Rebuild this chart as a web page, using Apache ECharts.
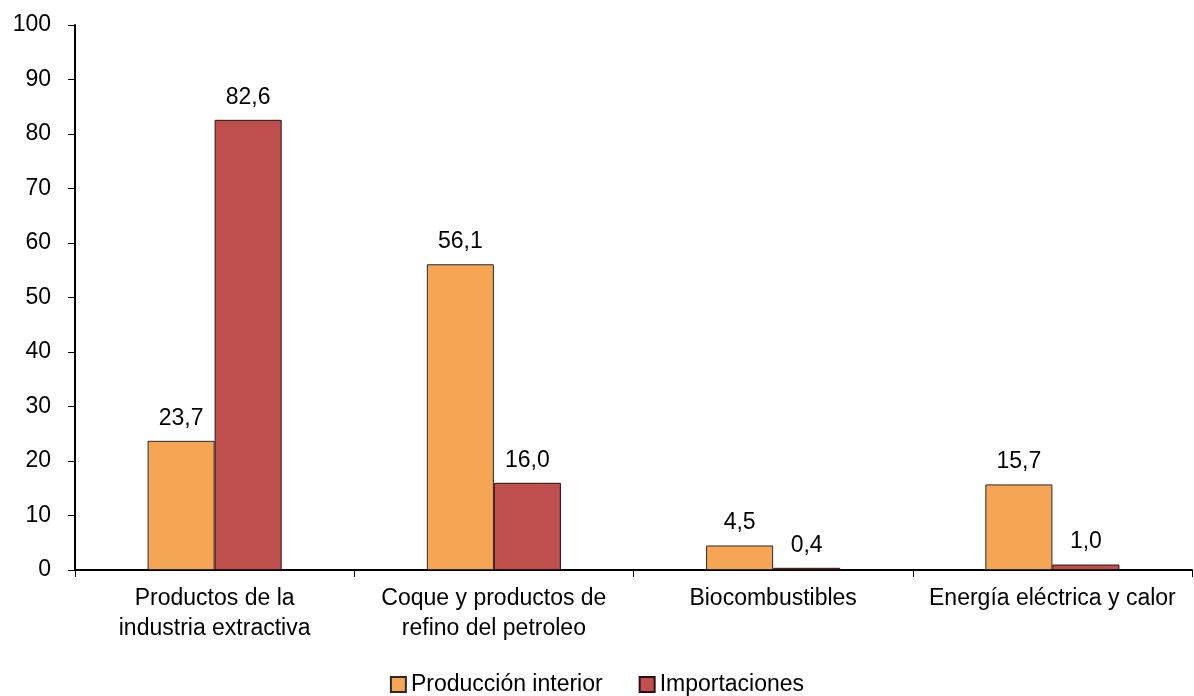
<!DOCTYPE html>
<html><head><meta charset="utf-8">
<script src="https://cdn.jsdelivr.net/npm/echarts@6/dist/echarts.min.js"></script>
<style>html,body{margin:0;padding:0;background:#fff}#c{width:1194px;height:696px}</style>
</head><body><div id="c"></div>
<script>
var categories = ['Productos de la\nindustria extractiva', 'Coque y productos de\nrefino del petroleo', 'Biocombustibles', 'Energía eléctrica y calor'];
var produccion = [23.7, 56.1, 4.5, 15.7];
var importaciones = [82.6, 16.0, 0.4, 1.0];
var seriesNames = ['Producción interior', 'Importaciones'];

var font = 'Liberation Sans, Arial, sans-serif';
var fs = 23;
var fmt = function(p){ return p.value.toFixed(1).replace('.', ','); };
var chart = echarts.init(document.getElementById('c'));
chart.setOption({
  animation: false,
  grid: {left: 75, right: 2, top: 25, bottom: 126},
  legend: {
    top: 668, left: 'center', itemWidth: 15, itemHeight: 15, itemGap: 36,
    icon: 'rect',
    textStyle: {fontFamily: font, fontSize: fs, color: '#000'},
    data: seriesNames
  },
  xAxis: {
    type: 'category', data: categories,
    axisLine: {lineStyle: {color: '#000', width: 2}},
    axisTick: {show: true, length: 7, lineStyle: {color: '#000'}},
    axisLabel: {interval: 0, fontFamily: font, fontSize: fs, color: '#000', lineHeight: 30, margin: 14}
  },
  yAxis: {
    type: 'value', min: 0, max: 100, interval: 10,
    splitLine: {show: false},
    axisLine: {show: true, lineStyle: {color: '#000', width: 2}},
    axisTick: {show: true, length: 7, lineStyle: {color: '#000'}},
    axisLabel: {fontFamily: font, fontSize: fs, color: '#000', margin: 24}
  },
  series: [
    {name: seriesNames[0], type: 'bar', data: produccion, barWidth: '24%', barGap: '0%',
     itemStyle: {color: '#F6A555', borderColor: '#2a2a2a', borderWidth: 1},
     label: {show: true, position: 'top', distance: 11, formatter: fmt, fontFamily: font, fontSize: fs, color: '#000'}},
    {name: seriesNames[1], type: 'bar', data: importaciones, barWidth: '24%',
     itemStyle: {color: '#C0504D', borderColor: '#2a1010', borderWidth: 1},
     label: {show: true, position: 'top', distance: 11, formatter: fmt, fontFamily: font, fontSize: fs, color: '#000'}}
  ]
});
</script></body></html>
